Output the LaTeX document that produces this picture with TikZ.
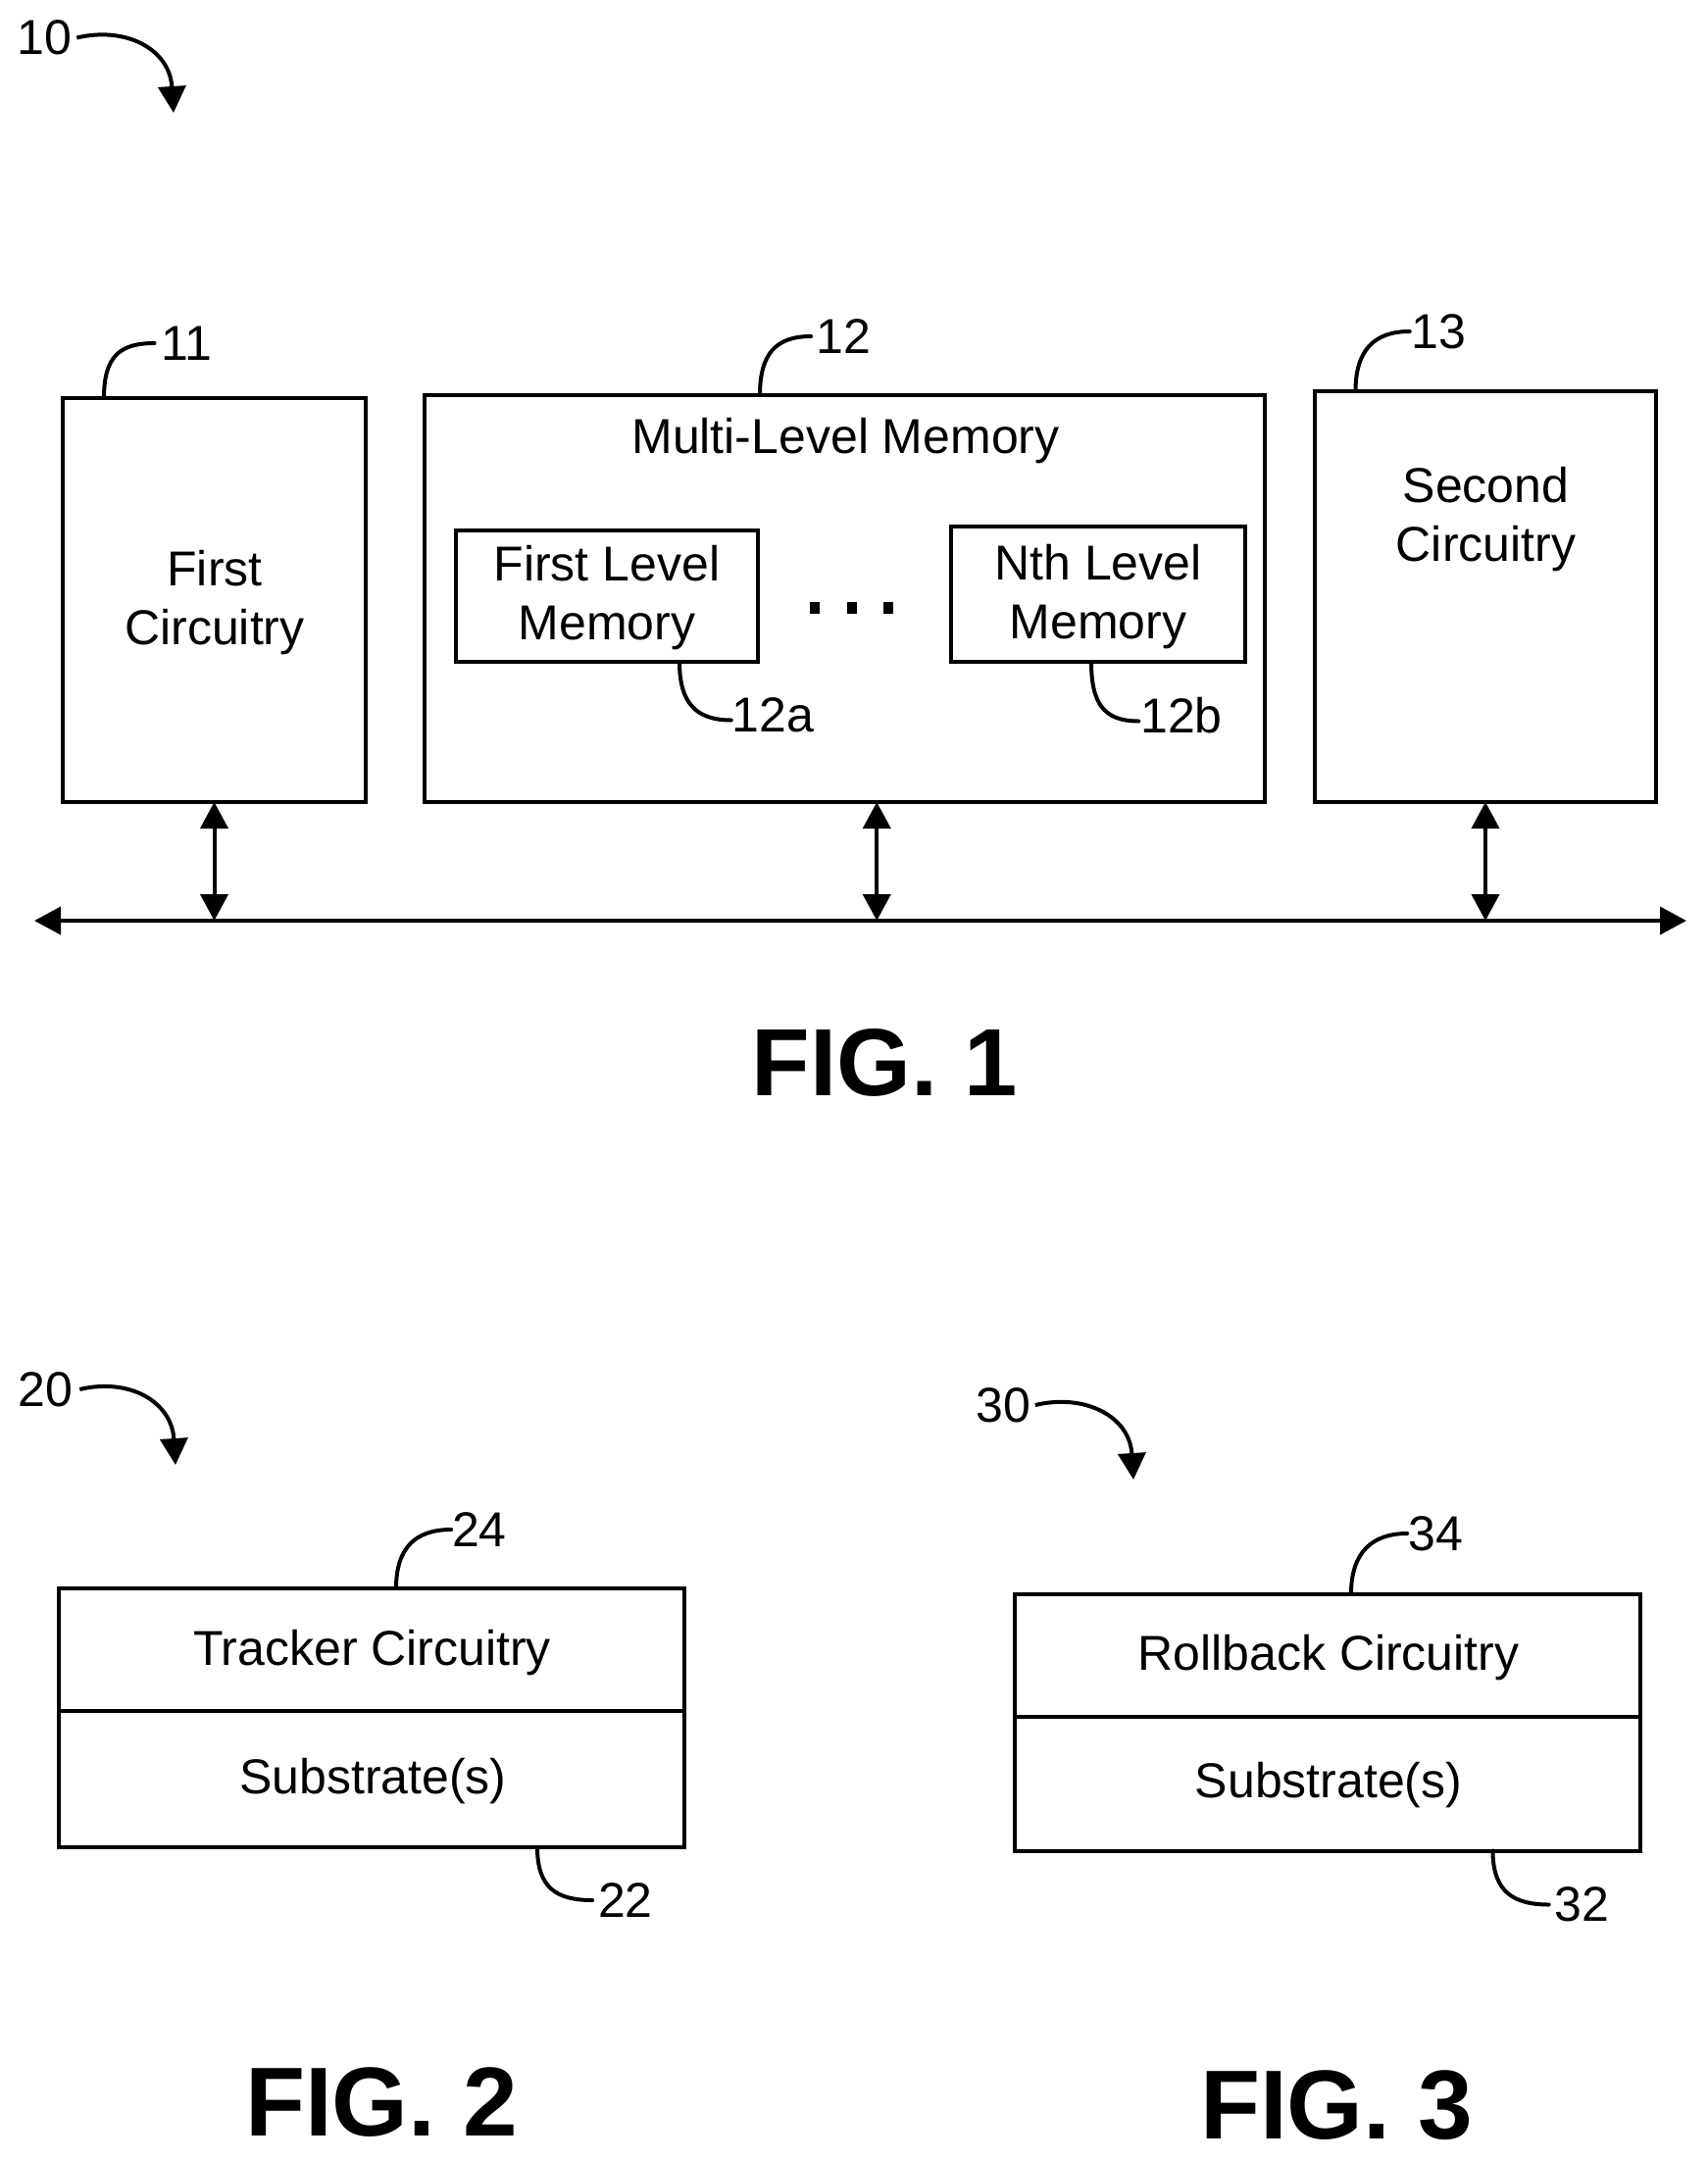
\documentclass[tikz,border=0pt]{standalone}
\usepackage{fontspec}
\setmainfont{Liberation Sans}
\usetikzlibrary{arrows.meta}
\tikzset{
  box/.style={draw=black,line width=4pt,inner sep=0pt,outer sep=0pt,fill=none},
  txt/.style={font=\fontsize{50}{60}\selectfont,align=center,inner sep=0pt,outer sep=0pt,text=black},
  fig/.style={font=\fontsize{100}{110}\selectfont\bfseries,inner sep=0pt,outer sep=0pt,text=black},
  figone/.style={font=\fontsize{97.5}{110}\selectfont\bfseries,inner sep=0pt,outer sep=0pt,text=black},
  leader/.style={line width=4pt,line cap=round,draw=black},
  curvearrow/.style={line width=4pt,draw=black,-{Triangle[length=27pt,width=28pt]}},
  duplex/.style={line width=4pt,draw=black,{Triangle[length=27pt,width=28pt]}-{Triangle[length=27pt,width=28pt]}},
  dot/.style={fill=black,draw=none,minimum width=10pt,minimum height=12pt,inner sep=0pt,outer sep=0pt}
}
\begin{document}
\begin{tikzpicture}[x=1pt,y=-1pt]
\useasboundingbox (0,0) rectangle (1741,2204);
% Fig 1 boxes
\node[box,minimum width=309pt,minimum height=412pt] (b11) at (218.5,612) {};
\node[box,minimum width=857.5pt,minimum height=415pt] (b12) at (861.25,610.5) {};
\node[box,minimum width=348pt,minimum height=419pt] (b13) at (1515,608.5) {};
\node[box,minimum width=308pt,minimum height=134pt] (b12a) at (619,608) {};
\node[box,minimum width=300pt,minimum height=138pt] (b12b) at (1120,606) {};
\node[txt] (t11) at (219,614.5) {First\\Circuitry};
\node[txt] (t12) at (862.5,450) {Multi-Level Memory};
\node[txt] (t13) at (1515.5,529.5) {Second\\Circuitry};
\node[txt] (t12a) at (619,610) {First Level\\Memory};
\node[txt] (t12b) at (1120,608.5) {Nth Level\\Memory};
\node[dot] (d1) at (831,620) {};
\node[dot] (d2) at (869,620) {};
\node[dot] (d3) at (906,620) {};
% bus
\coordinate (busL) at (35,939);
\coordinate (busR) at (1720,939);
\draw[duplex] (busL) -- (busR);
\draw[duplex] (b11.south) -- (b11.south |- busL);
\draw[duplex] ([xshift=33pt]b12.south) -- ([xshift=33pt]b12.south |- busL);
\draw[duplex] (b13.south) -- (b13.south |- busL);
\node[figone] (f1) at (902,1084) {FIG. 1};
% labels fig 1
\node[txt] (l10) at (45.5,38.5) {10};
\coordinate (a10) at (177,115);
\draw[curvearrow] ([xshift=5pt]l10.east) .. controls +(50,-12) and +(-4,-65) .. (a10);
\node[txt] (l11) at (190.5,350) {11};
\node[txt] (l12) at (860,343) {12};
\node[txt] (l13) at (1467.5,338) {13};
\node[txt] (l12a) at (788.5,729.5) {12a};
\node[txt] (l12b) at (1205,729.5) {12b};
\draw[leader] ([xshift=-112.5pt]b11.north) .. controls +(0,-42) and +(-36,0) .. ([xshift=-7pt]l11.west);
\draw[leader] ([xshift=-86.25pt]b12.north) .. controls +(0,-42) and +(-36,0) .. ([xshift=-5pt]l12.west);
\draw[leader] ([xshift=-132.5pt]b13.north) .. controls +(0,-42) and +(-36,0) .. ([xshift=-2pt]l13.west);
\draw[leader] ([xshift=74pt]b12a.south) .. controls +(0,42) and +(-36,0) .. ([xshift=-1pt,yshift=-5pt]l12a.west);
\draw[leader] ([xshift=-7pt]b12b.south) .. controls +(0,42) and +(-36,0) .. ([xshift=-2pt,yshift=-6pt]l12b.west);
% Fig 2
\node[box,minimum width=638pt,minimum height=125pt] (b24) at (379,1682.5) {};
\node[box,minimum width=638pt,minimum height=139pt] (b22) at (379,1814.5) {};
\node[txt] (t24) at (379.5,1685.5) {Tracker Circuitry};
\node[txt] (t22) at (380.5,1817) {Substrate(s)};
\node[fig] (f2) at (389,2144) {FIG. 2};
\node[txt] (l20) at (46.5,1417) {20};
\coordinate (a20) at (179,1494);
\draw[curvearrow] ([xshift=7pt]l20.east) .. controls +(50,-12) and +(-4,-65) .. (a20);
\node[txt] (l24) at (489,1560) {24};
\node[txt] (l22) at (638,1938) {22};
\draw[leader] ([xshift=25pt]b24.north) .. controls +(0,-42) and +(-36,0) .. ([xshift=-1pt]l24.west);
\draw[leader] ([xshift=169pt]b22.south) .. controls +(0,42) and +(-36,0) .. ([xshift=-6pt]l22.west);
% Fig 3
\node[box,minimum width=638pt,minimum height=125pt] (b34) at (1353.5,1688) {};
\node[box,minimum width=638pt,minimum height=137pt] (b32) at (1353.5,1819) {};
\node[txt] (t34) at (1355,1690.5) {Rollback Circuitry};
\node[txt] (t32) at (1355,1821) {Substrate(s)};
\node[fig] (f3) at (1363,2147) {FIG. 3};
\node[txt] (l30) at (1023,1433) {30};
\coordinate (a30) at (1156,1509);
\draw[curvearrow] ([xshift=5pt]l30.east) .. controls +(50,-12) and +(-4,-65) .. (a30);
\node[txt] (l34) at (1464,1564) {34};
\node[txt] (l32) at (1613.5,1942.5) {32};
\draw[leader] ([xshift=24.5pt]b34.north) .. controls +(0,-42) and +(-36,0) .. ([xshift=-1pt]l34.west);
\draw[leader] ([xshift=169pt]b32.south) .. controls +(0,42) and +(-36,0) .. ([xshift=-6pt]l32.west);
\end{tikzpicture}
\end{document}
